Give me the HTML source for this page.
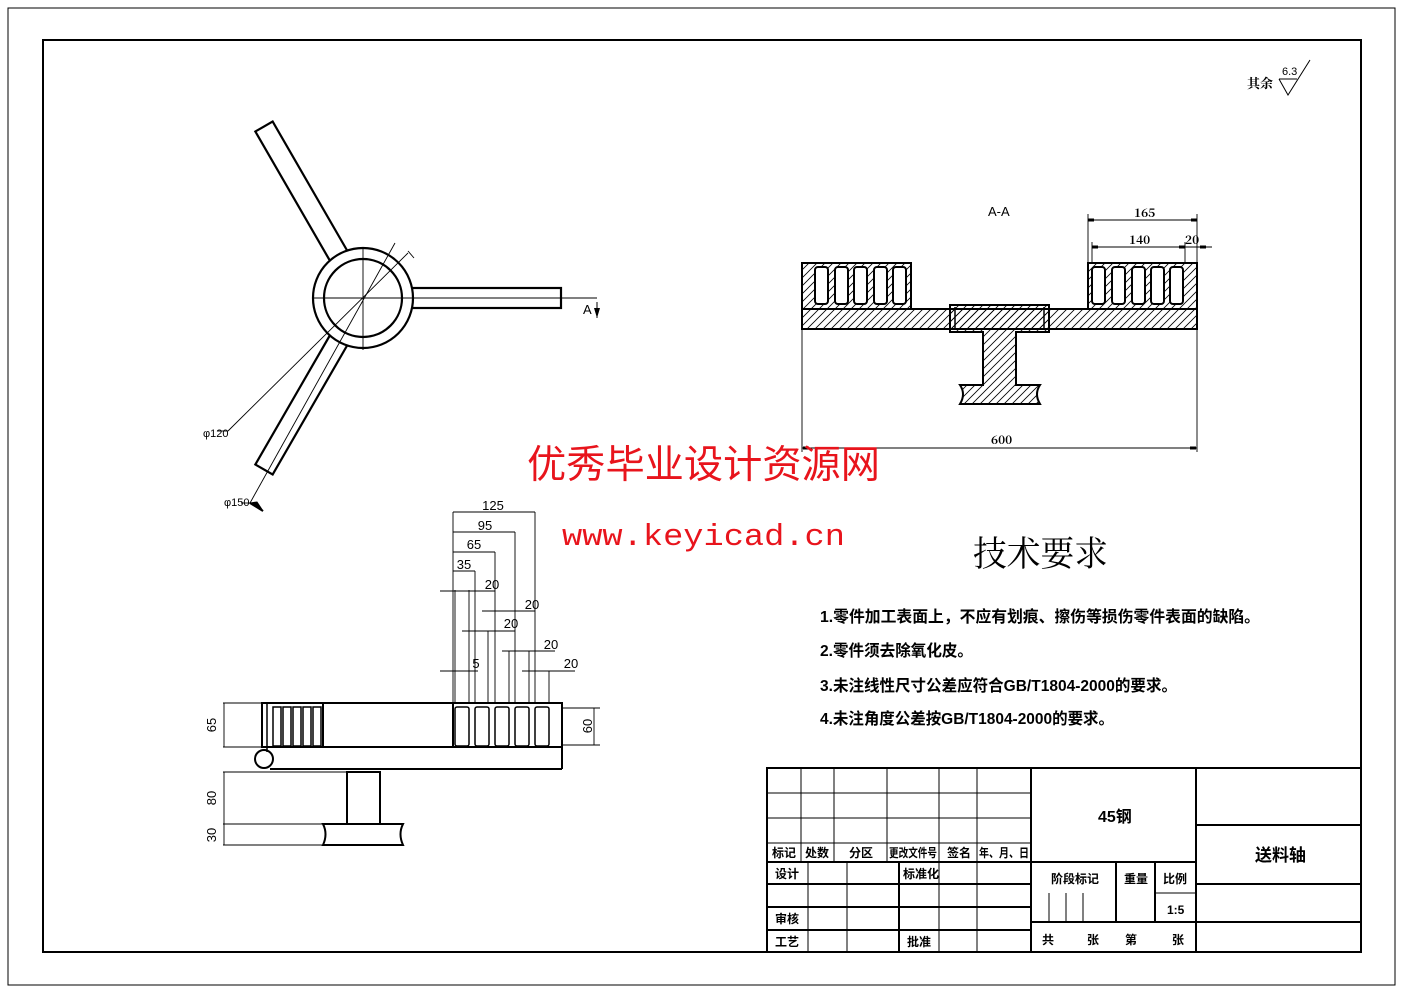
<!DOCTYPE html>
<html><head><meta charset="utf-8"><style>
html,body{margin:0;padding:0;background:#fff;}
svg{display:block;}
text{font-family:"Liberation Sans","Noto Sans CJK SC",sans-serif;fill:#000;}
.s{font-family:"Noto Serif CJK SC","Liberation Serif",serif;font-weight:bold;}
</style></head><body>
<svg width="1403" height="992" viewBox="0 0 1403 992" xmlns="http://www.w3.org/2000/svg">
<defs>
<pattern id="h" patternUnits="userSpaceOnUse" width="8" height="8">
<path d="M0 8L8 0M-2 2L2 -2M6 10L10 6" stroke="#000" stroke-width="0.8"/>
</pattern>
</defs>
<rect x="8" y="8" width="1387" height="977" fill="none" stroke="#000" stroke-width="1"/>
<rect x="43" y="40" width="1318" height="912" fill="none" stroke="#000" stroke-width="2"/>

<!-- roughness -->
<text x="1247" y="88" font-size="13" class="s">其余</text>
<text x="1282" y="75" font-size="11">6.3</text>
<path d="M1279 79L1297 79M1279 79L1288 95L1310 60" fill="none" stroke="#000" stroke-width="1"/>

<!-- top-left view -->
<g transform="translate(363,298)" stroke="#000" fill="none">
<g stroke-width="2.2">
<rect x="49" y="-10" width="149" height="20" fill="#fff"/>
<rect x="49" y="-10" width="149" height="20" fill="#fff" transform="rotate(-120)"/>
<rect x="49" y="-10" width="149" height="20" fill="#fff" transform="rotate(120)"/>
<circle r="50" fill="#fff"/>
<circle r="39"/>
</g>
<g stroke-width="0.9">
<line x1="-50" y1="0" x2="234" y2="0"/>
<line x1="0" y1="-50" x2="0" y2="52"/>
<line x1="32" y1="-55" x2="-113" y2="205"/>
<line x1="45" y1="-45" x2="-135" y2="133"/>
<line x1="-135" y1="133" x2="-146" y2="133"/>
<line x1="-113" y1="205" x2="-122" y2="205"/>
<line x1="45" y1="-47" x2="51" y2="-40"/>
</g>
<path d="M-113 205L-100 213L-106 204Z" fill="#000"/>
<line x1="-113" y1="205" x2="-100" y2="213" stroke-width="2"/>
</g>
<text x="583" y="314" font-size="13">A</text>
<path d="M597 302L597 318" stroke="#000" stroke-width="1"/>
<path d="M594 308L600 308L597 318Z" fill="#000"/>
<text x="203" y="437" font-size="11">φ120</text>
<text x="224" y="506" font-size="11">φ150</text>

<!-- A-A section -->
<text x="988" y="216" font-size="13">A-A</text>
<g stroke="#000" stroke-width="2">
<rect x="802" y="263" width="109" height="46" fill="url(#h)"/>
<rect x="1088" y="263" width="109" height="46" fill="url(#h)"/>
<rect x="802" y="309" width="395" height="20" fill="url(#h)"/>
<path d="M950 305H1049V332H1016V385H1040Q1034 394 1040 404H960Q966 394 960 385H983V332H950Z" fill="url(#h)"/>
<line x1="955" y1="307" x2="955" y2="330" stroke-width="1.5"/>
<line x1="1044" y1="307" x2="1044" y2="330" stroke-width="1.5"/>
</g>
<g stroke="#000" stroke-width="2" fill="#fff">
<rect x="815" y="267" width="13" height="37" rx="3"/>
<rect x="835" y="267" width="13" height="37" rx="3"/>
<rect x="854" y="267" width="13" height="37" rx="3"/>
<rect x="874" y="267" width="13" height="37" rx="3"/>
<rect x="893" y="267" width="13" height="37" rx="3"/>
<rect x="1092" y="267" width="13" height="37" rx="3"/>
<rect x="1112" y="267" width="13" height="37" rx="3"/>
<rect x="1132" y="267" width="13" height="37" rx="3"/>
<rect x="1151" y="267" width="13" height="37" rx="3"/>
<rect x="1170" y="267" width="13" height="37" rx="3"/>
</g>
<g stroke="#000" stroke-width="0.9" fill="none">
<line x1="1088" y1="214" x2="1088" y2="262"/>
<line x1="1197" y1="214" x2="1197" y2="262"/>
<line x1="1092" y1="242" x2="1092" y2="262"/>
<line x1="1185" y1="242" x2="1185" y2="262"/>
<line x1="1088" y1="220" x2="1197" y2="220"/>
<line x1="1092" y1="247" x2="1212" y2="247"/>
<line x1="802" y1="330" x2="802" y2="452"/>
<line x1="1197" y1="330" x2="1197" y2="452"/>
<line x1="802" y1="448" x2="1197" y2="448"/>
</g>
<g fill="#000">
<rect x="1088" y="218.5" width="6" height="3"/><rect x="1191" y="218.5" width="6" height="3"/>
<rect x="1092" y="245.5" width="6" height="3"/><rect x="1179" y="245.5" width="6" height="3"/>
<rect x="1200" y="245.5" width="6" height="3"/>
<rect x="803" y="446.5" width="6" height="3"/><rect x="1190" y="446.5" width="6" height="3"/>
</g>
<text x="1134" y="217" font-size="12" class="s">165</text>
<text x="1129" y="244" font-size="12" class="s">140</text>
<text x="1185" y="244" font-size="12" class="s">20</text>
<text x="991" y="444" font-size="12" class="s">600</text>

<!-- bottom-left view -->
<g stroke="#000" fill="none">
<g stroke-width="2">
<rect x="262" y="703" width="61" height="44"/>
<line x1="323" y1="703" x2="562" y2="703"/>
<rect x="453" y="703" width="109" height="44"/>
<line x1="323" y1="747" x2="453" y2="747"/>
<line x1="270" y1="769" x2="562" y2="769"/>
<line x1="562" y1="747" x2="562" y2="769"/>
<circle cx="264" cy="759" r="9"/>
<rect x="347" y="772" width="33" height="52"/>
<path d="M323 824H403Q398 834 403 845H323Q328 834 323 824Z"/>
</g>
<g stroke-width="1.5">
<line x1="267" y1="703" x2="267" y2="752"/>
<rect x="273" y="707" width="8" height="39"/><rect x="283" y="707" width="8" height="39"/>
<rect x="293" y="707" width="8" height="39"/><rect x="303" y="707" width="8" height="39"/>
<rect x="313" y="707" width="8" height="39"/>
<rect x="455" y="707" width="14" height="39" rx="2"/><rect x="475" y="707" width="14" height="39" rx="2"/>
<rect x="495" y="707" width="14" height="39" rx="2"/><rect x="515" y="707" width="14" height="39" rx="2"/>
<rect x="535" y="707" width="14" height="39" rx="2"/>
</g>
<g stroke-width="0.9">
<line x1="223" y1="703" x2="262" y2="703"/>
<line x1="223" y1="747" x2="262" y2="747"/>
<line x1="224" y1="703" x2="224" y2="747"/>
<line x1="223" y1="772" x2="347" y2="772"/>
<line x1="223" y1="824" x2="323" y2="824"/>
<line x1="223" y1="845" x2="323" y2="845"/>
<line x1="224" y1="772" x2="224" y2="845"/>
<line x1="562" y1="708" x2="600" y2="708"/>
<line x1="562" y1="745" x2="600" y2="745"/>
<line x1="594" y1="708" x2="594" y2="745"/>
<line x1="453" y1="512" x2="453" y2="703"/>
<line x1="455" y1="590" x2="455" y2="703"/>
<line x1="469" y1="590" x2="469" y2="703"/>
<line x1="475" y1="571" x2="475" y2="703"/>
<line x1="495" y1="552" x2="495" y2="703"/>
<line x1="488" y1="631" x2="488" y2="703"/>
<line x1="509" y1="651" x2="509" y2="703"/>
<line x1="515" y1="532" x2="515" y2="703"/>
<line x1="529" y1="651" x2="529" y2="703"/>
<line x1="535" y1="512" x2="535" y2="703"/>
<line x1="549" y1="671" x2="549" y2="703"/>
<line x1="453" y1="512" x2="535" y2="512"/>
<line x1="453" y1="532" x2="515" y2="532"/>
<line x1="453" y1="552" x2="495" y2="552"/>
<line x1="453" y1="571" x2="475" y2="571"/>
<line x1="440" y1="591" x2="495" y2="591"/>
<line x1="482" y1="611" x2="535" y2="611"/>
<line x1="462" y1="631" x2="515" y2="631"/>
<line x1="502" y1="651" x2="555" y2="651"/>
<line x1="440" y1="671" x2="478" y2="671"/>
<line x1="522" y1="671" x2="575" y2="671"/>
</g>
</g>
<g font-size="13" text-anchor="middle">
<text x="493" y="510">125</text>
<text x="485" y="530">95</text>
<text x="474" y="549">65</text>
<text x="464" y="569">35</text>
<text x="492" y="589">20</text>
<text x="532" y="609">20</text>
<text x="511" y="628">20</text>
<text x="551" y="649">20</text>
<text x="571" y="668">20</text>
<text x="476" y="668">5</text>
<text transform="translate(216,725) rotate(-90)">65</text>
<text transform="translate(216,798) rotate(-90)">80</text>
<text transform="translate(216,835) rotate(-90)">30</text>
<text transform="translate(592,726) rotate(-90)">60</text>
</g>

<!-- watermark -->
<text x="527" y="478" font-size="39" textLength="353" lengthAdjust="spacingAndGlyphs" style="fill:#e8141c;font-family:'Noto Sans CJK SC',sans-serif">优秀毕业设计资源网</text>
<text x="562" y="545" font-size="31" textLength="283" lengthAdjust="spacingAndGlyphs" style="fill:#e8141c;font-family:'Liberation Mono',monospace">www.keyicad.cn</text>

<!-- tech req -->
<text x="973" y="566" font-size="35" textLength="135" lengthAdjust="spacingAndGlyphs" style="font-family:'Noto Serif CJK SC','Noto Sans CJK SC',serif">技术要求</text>
<g font-size="16" class="s">
<text x="820" y="622" textLength="440" lengthAdjust="spacingAndGlyphs">1.零件加工表面上，不应有划痕、擦伤等损伤零件表面的缺陷。</text>
<text x="820" y="656" textLength="153" lengthAdjust="spacingAndGlyphs">2.零件须去除氧化皮。</text>
<text x="820" y="691" textLength="357" lengthAdjust="spacingAndGlyphs">3.未注线性尺寸公差应符合GB/T1804-2000的要求。</text>
<text x="820" y="724" textLength="294" lengthAdjust="spacingAndGlyphs">4.未注角度公差按GB/T1804-2000的要求。</text>
</g>

<!-- title block -->
<g stroke="#000" fill="none">
<rect x="767" y="768" width="594" height="184" stroke-width="2"/>
<g stroke-width="1">
<line x1="767" y1="793" x2="1031" y2="793"/>
<line x1="767" y1="818" x2="1031" y2="818"/>
<line x1="767" y1="843" x2="1031" y2="843"/>
<line x1="801" y1="768" x2="801" y2="862"/>
<line x1="834" y1="768" x2="834" y2="862"/>
<line x1="887" y1="768" x2="887" y2="862"/>
<line x1="939" y1="768" x2="939" y2="862"/>
<line x1="977" y1="768" x2="977" y2="862"/>
<line x1="808" y1="862" x2="808" y2="952"/>
<line x1="847" y1="862" x2="847" y2="952"/>
<line x1="939" y1="862" x2="939" y2="952"/>
<line x1="977" y1="862" x2="977" y2="952"/>
<line x1="1049" y1="893" x2="1049" y2="922"/>
<line x1="1066" y1="893" x2="1066" y2="922"/>
<line x1="1083" y1="893" x2="1083" y2="922"/>
<line x1="1155" y1="893" x2="1196" y2="893"/>
</g>
<g stroke-width="2">
<line x1="767" y1="862" x2="1196" y2="862" />
<line x1="767" y1="884" x2="1031" y2="884"/>
<line x1="767" y1="907" x2="1031" y2="907"/>
<line x1="767" y1="930" x2="1031" y2="930"/>
<line x1="899" y1="862" x2="899" y2="952"/>
<line x1="1031" y1="768" x2="1031" y2="952"/>
<line x1="1196" y1="768" x2="1196" y2="952"/>
<line x1="1116" y1="862" x2="1116" y2="922"/>
<line x1="1155" y1="862" x2="1155" y2="922"/>
<line x1="1031" y1="922" x2="1196" y2="922"/>
<line x1="1196" y1="825" x2="1361" y2="825"/>
<line x1="1196" y1="884" x2="1361" y2="884"/>
<line x1="1196" y1="922" x2="1361" y2="922"/>
</g>
</g>
<g class="s" font-size="12">
<text x="772" y="857">标记</text><text x="805" y="857">处数</text><text x="849" y="857">分区</text>
<text x="889" y="857" textLength="48" lengthAdjust="spacingAndGlyphs">更改文件号</text><text x="947" y="857">签名</text><text x="979" y="857" textLength="50" lengthAdjust="spacingAndGlyphs">年、月、日</text>
<text x="775" y="878">设计</text><text x="903" y="878">标准化</text>
<text x="775" y="923">审核</text><text x="775" y="946">工艺</text><text x="907" y="946">批准</text>
<text x="1051" y="883">阶段标记</text><text x="1124" y="883">重量</text><text x="1163" y="883">比例</text>
<text x="1167" y="914">1:5</text>
<text x="1042" y="944">共</text><text x="1087" y="944">张</text><text x="1125" y="944">第</text><text x="1172" y="944">张</text>
<text x="1098" y="822" font-size="16">45钢</text>
<text x="1255" y="861" font-size="17">送料轴</text>
</g>
</svg>
</body></html>
